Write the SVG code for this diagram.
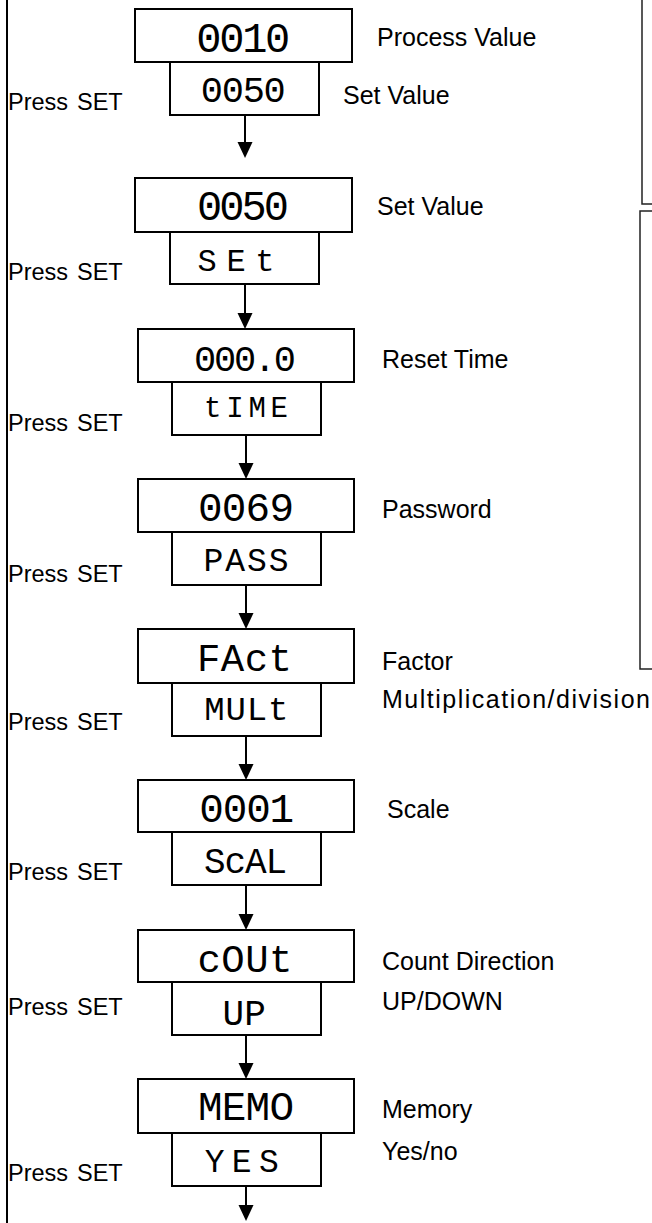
<svg xmlns="http://www.w3.org/2000/svg" width="652" height="1223" viewBox="0 0 652 1223">
<style>
.bx{fill:#fff;stroke:#000;stroke-width:2}
.seg{font-family:"Liberation Mono","DejaVu Sans Mono",monospace;fill:#000;text-anchor:middle}
.lbl{font-family:"Liberation Sans",Arial,sans-serif;font-size:25px;fill:#000}
.ps{font-family:"Liberation Sans",Arial,sans-serif;font-size:23.5px;fill:#000}
.cn{stroke:#000;stroke-width:2;fill:none}
.fr{stroke:#222;stroke-width:1.5;fill:none}
</style>
<defs>
<marker id="ah" markerUnits="userSpaceOnUse" markerWidth="17" markerHeight="16" refX="12" refY="7.5" orient="auto" viewBox="0 0 17 16"><path d="M0,0 L16,7.5 L0,15 z" fill="#000"/></marker>
</defs>
<g id="frame">
<line class="cn" x1="7" y1="0" x2="7" y2="1223"/>
<path class="fr" d="M642,0 V204 H652"/>
<path class="fr" d="M652,211 H640 V669 H652"/>
</g>
<g id="node1">
<rect class="bx" x="135" y="9" width="217" height="53"/>
<rect class="bx" x="170" y="62" width="149" height="53"/>
<text class="seg" x="243.3" y="52" font-size="42" textLength="94" lengthAdjust="spacing">0010</text>
<text class="seg" x="243.3" y="102" font-size="37" textLength="85" lengthAdjust="spacing">0050</text>
<text class="lbl" x="377" y="46">Process Value</text>
<text class="lbl" x="343" y="104">Set Value</text>
<text class="ps" x="8" y="110">Press<tspan x="77">SET</tspan></text>
</g>
<g id="node2">
<rect class="bx" x="135" y="178" width="217" height="54"/>
<rect class="bx" x="170" y="232" width="149" height="52"/>
<text class="seg" x="243" y="220" font-size="42" textLength="92" lengthAdjust="spacing">0050</text>
<text class="seg" x="236" y="271" font-size="32" textLength="77" lengthAdjust="spacing">SEt</text>
<text class="lbl" x="377" y="215">Set Value</text>
<text class="ps" x="8" y="280">Press<tspan x="77">SET</tspan></text>
</g>
<g id="node3">
<rect class="bx" x="138" y="329" width="216" height="53"/>
<rect class="bx" x="172" y="382" width="149" height="53"/>
<text class="seg" x="245" y="371" font-size="37" textLength="102" lengthAdjust="spacing">000.0</text>
<text class="seg" x="246" y="417" font-size="29" textLength="84" lengthAdjust="spacing">tIME</text>
<text class="lbl" x="382" y="368">Reset Time</text>
<text class="ps" x="8" y="431">Press<tspan x="77">SET</tspan></text>
</g>
<g id="node4">
<rect class="bx" x="138" y="479" width="216" height="53"/>
<rect class="bx" x="172" y="532" width="149" height="53"/>
<text class="seg" x="246" y="521" font-size="41" textLength="96" lengthAdjust="spacing">0069</text>
<text class="seg" x="246" y="571" font-size="33" textLength="85" lengthAdjust="spacing">PASS</text>
<text class="lbl" x="382" y="518">Password</text>
<text class="ps" x="8" y="582">Press<tspan x="77">SET</tspan></text>
</g>
<g id="node5">
<rect class="bx" x="138" y="629" width="216" height="54"/>
<rect class="bx" x="172" y="683" width="149" height="53"/>
<text class="seg" x="244.5" y="671" font-size="39" textLength="95" lengthAdjust="spacing">FAct</text>
<text class="seg" x="246.3" y="720" font-size="34" textLength="84" lengthAdjust="spacing">MULt</text>
<text class="lbl" x="382" y="670">Factor</text>
<text class="lbl" x="382" y="708" textLength="268" lengthAdjust="spacing">Multiplication/division</text>
<text class="ps" x="8" y="730">Press<tspan x="77">SET</tspan></text>
</g>
<g id="node6">
<rect class="bx" x="138" y="780" width="216" height="52"/>
<rect class="bx" x="172" y="832" width="149" height="53"/>
<text class="seg" x="246.7" y="822" font-size="41" textLength="95" lengthAdjust="spacing">0001</text>
<text class="seg" x="245.5" y="873" font-size="36" textLength="83" lengthAdjust="spacing">ScAL</text>
<text class="lbl" x="387" y="818">Scale</text>
<text class="ps" x="8" y="880">Press<tspan x="77">SET</tspan></text>
</g>
<g id="node7">
<rect class="bx" x="138" y="930" width="216" height="52"/>
<rect class="bx" x="172" y="982" width="149" height="53"/>
<text class="seg" x="245" y="972" font-size="39" textLength="95" lengthAdjust="spacing">cOUt</text>
<text class="seg" x="244.2" y="1025" font-size="36">UP</text>
<text class="lbl" x="382" y="970">Count Direction</text>
<text class="lbl" x="382" y="1010">UP/DOWN</text>
<text class="ps" x="8" y="1015">Press<tspan x="77">SET</tspan></text>
</g>
<g id="node8">
<rect class="bx" x="138" y="1079" width="216" height="54"/>
<rect class="bx" x="172" y="1133" width="149" height="53"/>
<text class="seg" x="246" y="1120" font-size="41" textLength="96" lengthAdjust="spacing">MEMO</text>
<text class="seg" x="241.7" y="1172" font-size="33" textLength="74" lengthAdjust="spacing">YES</text>
<text class="lbl" x="382" y="1118">Memory</text>
<text class="lbl" x="382" y="1160">Yes/no</text>
<text class="ps" x="8" y="1181">Press<tspan x="77">SET</tspan></text>
</g>
<g id="connectors">
<line class="cn" x1="245" y1="115" x2="245" y2="154" marker-end="url(#ah)"/>
<line class="cn" x1="245" y1="284" x2="245" y2="325" marker-end="url(#ah)"/>
<line class="cn" x1="246" y1="435" x2="246" y2="475" marker-end="url(#ah)"/>
<line class="cn" x1="246" y1="585" x2="246" y2="625" marker-end="url(#ah)"/>
<line class="cn" x1="246" y1="736" x2="246" y2="776" marker-end="url(#ah)"/>
<line class="cn" x1="246" y1="885" x2="246" y2="926" marker-end="url(#ah)"/>
<line class="cn" x1="246" y1="1035" x2="246" y2="1075" marker-end="url(#ah)"/>
<line class="cn" x1="246" y1="1186" x2="246" y2="1217" marker-end="url(#ah)"/>
</g>
</svg>
